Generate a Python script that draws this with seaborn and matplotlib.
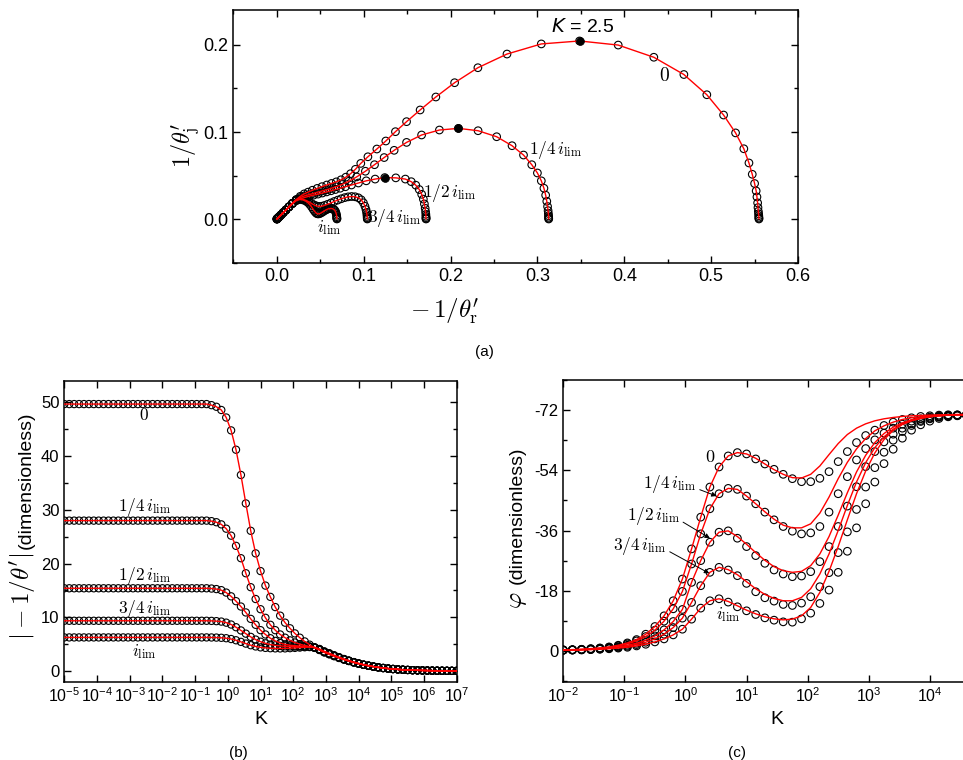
import numpy as np
import matplotlib
matplotlib.use("Agg")
import matplotlib.pyplot as plt
import seaborn as sns
from matplotlib.ticker import MultipleLocator, NullLocator, FormatStrFormatter

# ---------------- panel (a) data (ordered low K -> high K) ----------------
a0_x = [0.5550,0.5550,0.5549,0.5548,0.5546,0.5543,0.5539,0.5535,0.5527,0.5518,
        0.5500,0.5473,0.5435,0.5376,0.5281,0.5143,0.4950,0.4686,0.4340,0.3930,
        0.3485,0.3045,0.2650,0.2315,0.2047,0.1831,0.1650,0.1494,0.1366,0.1255,
        0.1152,0.1049,0.0967,0.0905,0.0850,0.0795,0.0740,0.0685,0.0630,0.0575,
        0.0520,0.0465,0.0410,0.0360,0.0315,0.0270,0.0225,0.0180,0.0140,0.0105,
        0.0075,0.0050,0.0030,0.0016,0.0007,0.0002]
a0_y = [0.0002,0.0010,0.0022,0.0040,0.0062,0.0090,0.0133,0.0187,0.0255,0.0324,
        0.0409,0.0515,0.0645,0.0808,0.0990,0.1195,0.1428,0.1660,0.1858,0.1998,
        0.2045,0.2011,0.1895,0.1738,0.1566,0.1402,0.1253,0.1119,0.1004,0.0897,
        0.0805,0.0716,0.0640,0.0572,0.0522,0.0482,0.0452,0.0428,0.0410,0.0392,
        0.0373,0.0353,0.0332,0.0310,0.0290,0.0262,0.0225,0.0182,0.0142,0.0106,
        0.0076,0.0050,0.0030,0.0016,0.0007,0.0002]

a1_x = [0.3130,0.3130,0.3129,0.3128,0.3126,0.3123,0.3117,0.3108,0.3095,0.3075,
        0.3045,0.3000,0.2935,0.2840,0.2708,0.2531,0.2317,0.2091,0.1872,0.1667,
        0.1494,0.1351,0.1236,0.1125,0.1020,0.0920,0.0830,0.0750,0.0680,0.0620,
        0.0565,0.0515,0.0465,0.0415,0.0365,0.0315,0.0270,0.0225,0.0180,0.0140,
        0.0105,0.0075,0.0050,0.0030,0.0016,0.0007,0.0002]
a1_y = [0.0002,0.0010,0.0022,0.0040,0.0065,0.0098,0.0145,0.0205,0.0275,0.0355,
        0.0440,0.0530,0.0625,0.0736,0.0843,0.0946,0.1015,0.1042,0.1023,0.0966,
        0.0881,0.0790,0.0707,0.0625,0.0550,0.0485,0.0435,0.0398,0.0372,0.0352,
        0.0336,0.0322,0.0308,0.0294,0.0280,0.0266,0.0248,0.0222,0.0182,0.0142,
        0.0106,0.0076,0.0050,0.0030,0.0016,0.0007,0.0002]

a2_x = [0.1718,0.1718,0.1718,0.1717,0.1716,0.1713,0.1708,0.1699,0.1687,0.1668,
        0.1640,0.1600,0.1548,0.1480,0.1370,0.1243,0.1132,0.1030,0.0940,0.0860,
        0.0790,0.0730,0.0675,0.0625,0.0575,0.0525,0.0475,0.0425,0.0375,0.0325,
        0.0275,0.0225,0.0180,0.0140,0.0105,0.0075,0.0050,0.0030,0.0016,0.0007,
        0.0002]
a2_y = [0.0002,0.0008,0.0018,0.0033,0.0055,0.0085,0.0125,0.0175,0.0230,0.0285,
        0.0340,0.0390,0.0430,0.0460,0.0474,0.0477,0.0460,0.0440,0.0415,0.0392,
        0.0372,0.0355,0.0340,0.0326,0.0313,0.0300,0.0288,0.0276,0.0264,0.0250,
        0.0234,0.0212,0.0178,0.0140,0.0105,0.0076,0.0050,0.0030,0.0016,0.0007,
        0.0002]

a3_x = [0.1042,0.1042,0.1041,0.1040,0.1038,0.1034,0.1027,0.1015,0.0997,0.0972,
        0.0940,0.0902,0.0862,0.0822,0.0782,0.0742,0.0702,0.0662,0.0622,0.0584,
        0.0548,0.0515,0.0485,0.0456,0.0428,0.0400,0.0370,0.0338,0.0303,0.0265,
        0.0225,0.0180,0.0140,0.0105,0.0075,0.0050,0.0030,0.0016,0.0007,0.0002]
a3_y = [0.0002,0.0008,0.0018,0.0032,0.0052,0.0078,0.0110,0.0148,0.0188,0.0222,
        0.0245,0.0257,0.0260,0.0256,0.0247,0.0234,0.0219,0.0203,0.0186,0.0170,
        0.0157,0.0148,0.0146,0.0152,0.0164,0.0180,0.0198,0.0215,0.0228,0.0232,
        0.0222,0.0182,0.0142,0.0106,0.0076,0.0050,0.0030,0.0016,0.0007,0.0002]

a4_x = [0.0692,0.0692,0.0691,0.0690,0.0688,0.0684,0.0678,0.0669,0.0657,0.0642,
        0.0625,0.0607,0.0589,0.0571,0.0553,0.0536,0.0519,0.0503,0.0488,0.0474,
        0.0461,0.0448,0.0434,0.0418,0.0400,0.0378,0.0352,0.0322,0.0290,0.0256,
        0.0220,0.0180,0.0140,0.0105,0.0075,0.0050,0.0030,0.0016,0.0007,0.0002]
a4_y = [0.0002,0.0007,0.0016,0.0029,0.0045,0.0064,0.0083,0.0100,0.0112,0.0120,
        0.0123,0.0122,0.0117,0.0109,0.0099,0.0088,0.0077,0.0068,0.0062,0.0060,
        0.0064,0.0075,0.0092,0.0115,0.0142,0.0170,0.0195,0.0213,0.0223,0.0225,
        0.0215,0.0180,0.0141,0.0105,0.0075,0.0050,0.0030,0.0016,0.0007,0.0002]

# K = 2.5 points (filled)
k25_x = [0.3485, 0.2091, 0.1243]
k25_y = [0.2045, 0.1042, 0.0477]

# ---------------- panel (b) data ----------------
logK = [-5.0,-4.85,-4.7,-4.55,-4.4,-4.25,-4.1,-3.95,-3.8,-3.65,
        -3.5,-3.35,-3.2,-3.05,-2.9,-2.75,-2.6,-2.45,-2.3,-2.15,
        -2.0,-1.85,-1.7,-1.55,-1.4,-1.25,-1.1,-0.95,-0.8,-0.65,
        -0.5,-0.35,-0.2,-0.05,0.1,0.25,0.4,0.55,0.7,0.85,
        1.0,1.15,1.3,1.45,1.6,1.75,1.9,2.05,2.2,2.35,
        2.5,2.65,2.8,2.95,3.1,3.25,3.4,3.55,3.7,3.85,
        4.0,4.15,4.3,4.45,4.6,4.75,4.9,5.05,5.2,5.35,
        5.5,5.65,5.8,5.95,6.1,6.25,6.4,6.55,6.7,6.85,
        7.0]

mag_0 = [49.7,49.7,49.7,49.7,49.7,49.7,49.7,49.7,49.7,49.7,
         49.7,49.7,49.7,49.7,49.7,49.7,49.7,49.7,49.7,49.7,
         49.7,49.7,49.7,49.7,49.7,49.7,49.7,49.7,49.7,49.7,
         49.5,49.2,48.6,47.2,44.8,41.2,36.5,31.2,26.1,21.9,
         18.6,15.9,13.8,11.9,10.3,9.0,7.95,7.0,6.2,5.5,
         4.9,4.3,3.9,3.45,3.1,2.75,2.42,2.12,1.85,1.58,
         1.35,1.14,0.96,0.8,0.66,0.54,0.44,0.36,0.29,0.23,
         0.19,0.15,0.12,0.1,0.08,0.06,0.05,0.04,0.03,0.025,
         0.02]
mag_14 = [28.0,28.0,28.0,28.0,28.0,28.0,28.0,28.0,28.0,28.0,
          28.0,28.0,28.0,28.0,28.0,28.0,28.0,28.0,28.0,28.0,
          28.0,28.0,28.0,28.0,28.0,28.0,28.0,28.0,28.0,28.0,
          27.9,27.7,27.3,26.5,25.2,23.3,21.0,18.2,15.6,13.4,
          11.5,9.9,8.6,7.6,6.8,6.2,5.7,5.3,5.0,4.75,
          4.55,4.35,3.95,3.5,3.15,2.8,2.46,2.15,1.87,1.6,
          1.37,1.15,0.97,0.81,0.67,0.55,0.45,0.36,0.29,0.23,
          0.19,0.15,0.12,0.1,0.08,0.06,0.05,0.04,0.03,0.025,
          0.02]
mag_12 = [15.4,15.4,15.4,15.4,15.4,15.4,15.4,15.4,15.4,15.4,
          15.4,15.4,15.4,15.4,15.4,15.4,15.4,15.4,15.4,15.4,
          15.4,15.4,15.4,15.4,15.4,15.4,15.4,15.4,15.4,15.4,
          15.35,15.25,15.05,14.6,13.9,13.0,12.0,10.9,9.7,8.6,
          7.6,6.8,6.1,5.6,5.2,4.95,4.8,4.7,4.65,4.6,
          4.5,4.37,4.0,3.55,3.2,2.84,2.5,2.18,1.89,1.62,
          1.38,1.16,0.98,0.82,0.68,0.55,0.45,0.37,0.29,0.23,
          0.19,0.15,0.12,0.1,0.08,0.06,0.05,0.04,0.03,0.025,
          0.02]
mag_34 = [9.35,9.35,9.35,9.35,9.35,9.35,9.35,9.35,9.35,9.35,
          9.35,9.35,9.35,9.35,9.35,9.35,9.35,9.35,9.35,9.35,
          9.35,9.35,9.35,9.35,9.35,9.35,9.35,9.35,9.35,9.35,
          9.33,9.28,9.2,9.0,8.65,8.15,7.55,6.95,6.35,5.85,
          5.45,5.15,4.92,4.77,4.67,4.6,4.57,4.55,4.55,4.53,
          4.5,4.4,4.05,3.6,3.25,2.88,2.53,2.2,1.91,1.64,
          1.39,1.17,0.99,0.83,0.68,0.56,0.46,0.37,0.3,0.24,
          0.19,0.15,0.12,0.1,0.08,0.06,0.05,0.04,0.03,0.025,
          0.02]
mag_lim = [6.25,6.25,6.25,6.25,6.25,6.25,6.25,6.25,6.25,6.25,
           6.25,6.25,6.25,6.25,6.25,6.25,6.25,6.25,6.25,6.25,
           6.25,6.25,6.25,6.25,6.25,6.25,6.25,6.25,6.25,6.25,
           6.24,6.22,6.18,6.1,5.95,5.72,5.42,5.1,4.8,4.57,
           4.4,4.3,4.24,4.21,4.2,4.21,4.25,4.3,4.36,4.42,
           4.45,4.4,4.1,3.65,3.3,2.92,2.56,2.23,1.93,1.66,
           1.4,1.18,1.0,0.84,0.69,0.56,0.46,0.37,0.3,0.24,
           0.19,0.15,0.12,0.1,0.08,0.06,0.05,0.04,0.03,0.025,
           0.02]

# ---------------- panel (c) data (logK from -2.0 to 4.6) ----------------
logK_c = logK[20:65]
phi_0 = [-0.3,-0.4,-0.5,-0.7,-0.9,-1.2,-1.7,-2.4,-3.4,-5.0,-7.3,-10.5,-15.0,-21.5,
         -30.5,-40.0,-49.0,-55.0,-58.3,-59.3,-58.9,-57.4,-55.9,-54.3,-52.8,-51.5,
         -50.6,-50.6,-51.6,-53.6,-56.6,-59.6,-62.3,-64.4,-66.0,-67.4,-68.4,-69.2,
         -69.7,-70.1,-70.3,-70.5,-70.6,-70.6,-70.7]
phi_14 = [-0.3,-0.35,-0.45,-0.6,-0.8,-1.1,-1.5,-2.1,-3.0,-4.3,-6.2,-8.9,-12.6,-17.8,
          -26.0,-35.0,-42.5,-47.0,-48.6,-48.3,-46.3,-44.0,-41.5,-39.2,-37.2,-35.8,
          -35.0,-35.3,-37.2,-41.5,-47.0,-52.1,-57.1,-60.5,-63.1,-65.1,-66.6,-67.8,
          -68.7,-69.4,-69.9,-70.2,-70.4,-70.5,-70.6]
phi_12 = [-0.25,-0.3,-0.4,-0.5,-0.7,-0.9,-1.2,-1.7,-2.3,-3.2,-4.5,-6.3,-8.8,-12.4,
          -20.5,-27.0,-32.5,-35.5,-35.9,-33.7,-31.2,-28.5,-26.2,-24.2,-23.0,-22.2,
          -22.4,-23.7,-26.7,-31.2,-37.2,-43.3,-49.1,-55.1,-59.6,-62.5,-64.8,-66.6,
          -67.9,-68.9,-69.6,-70.0,-70.3,-70.5,-70.6]
phi_34 = [-0.25,-0.3,-0.35,-0.45,-0.6,-0.8,-1.05,-1.4,-1.9,-2.6,-3.6,-5.0,-7.0,-9.8,
          -14.5,-19.5,-23.5,-25.0,-24.2,-22.5,-20.2,-17.7,-15.9,-14.9,-13.9,-13.6,
          -14.3,-16.2,-19.2,-23.4,-29.4,-35.6,-42.3,-49.0,-54.8,-59.4,-63.0,-65.6,
          -67.4,-68.6,-69.4,-69.9,-70.2,-70.4,-70.5]
phi_lim = [-0.2,-0.25,-0.3,-0.4,-0.5,-0.65,-0.85,-1.1,-1.5,-2.0,-2.7,-3.6,-4.8,-6.5,
           -9.5,-12.8,-15.0,-15.6,-14.6,-13.2,-12.0,-10.9,-9.9,-9.2,-8.7,-8.6,
           -9.6,-11.3,-14.2,-18.2,-23.5,-29.8,-36.8,-44.0,-50.5,-56.0,-60.3,-63.6,
           -66.0,-67.6,-68.7,-69.5,-70.0,-70.3,-70.5]

# model lines for (c)
fit_0 = phi_0[:14] + [-30.5,-40.0,-49.0,-55.0,-58.3,-59.3,-58.9,-57.6,-55.9,-54.2,-52.8,
                      -51.8,-51.7,-52.8,-55.3,-58.7,-62.0,-64.7,-66.6,-67.9,-68.8,-69.4,
                      -69.8,-70.1,-70.3,-70.4,-70.5,-70.6,-70.6,-70.7,-70.7]
fit_14 = phi_14[:14] + [-26.0,-35.0,-42.5,-47.0,-48.6,-48.3,-46.3,-44.0,-41.6,-39.4,-37.6,
                        -36.8,-36.8,-38.0,-41.2,-46.0,-51.5,-56.4,-60.4,-63.5,-65.8,-67.3,
                        -68.4,-69.2,-69.7,-70.0,-70.3,-70.4,-70.5,-70.6,-70.6]
fit_12 = phi_12[:14] + [-20.5,-27.0,-32.5,-35.5,-35.9,-34.2,-31.9,-29.4,-27.1,-25.2,-24.0,
                        -23.5,-23.8,-25.5,-29.0,-34.2,-40.6,-47.3,-53.5,-58.5,-62.3,-65.0,
                        -66.9,-68.2,-69.1,-69.7,-70.1,-70.3,-70.5,-70.6,-70.6]
fit_34 = phi_34[:14] + [-14.5,-19.5,-23.5,-25.0,-24.3,-22.8,-20.7,-18.6,-16.9,-15.7,-15.0,
                        -15.0,-16.0,-18.6,-23.0,-29.0,-36.0,-43.5,-50.5,-56.3,-60.8,-64.0,
                        -66.3,-67.8,-68.9,-69.6,-70.0,-70.3,-70.5,-70.6,-70.6]
fit_lim = phi_lim[:14] + [-9.5,-12.8,-15.0,-15.6,-14.8,-13.5,-12.2,-11.1,-10.2,-9.6,-9.3,
                          -9.5,-10.5,-13.0,-17.5,-23.8,-31.2,-39.2,-47.0,-53.8,-59.2,-63.2,
                          -65.9,-67.7,-68.8,-69.5,-70.0,-70.3,-70.5,-70.6,-70.6]

# tick labels
b_tick_exps = [-5,-4,-3,-2,-1,0,1,2,3,4,5,6,7]
c_tick_exps = [-2,-1,0,1,2,3,4]
c_yticks = [-72,-54,-36,-18,0]
c_ytick_labels = ['-72','-54','-36','-18','0']
curve_labels = [r'$0$', r'$1/4\,i_{\rm lim}$', r'$1/2\,i_{\rm lim}$',
                r'$3/4\,i_{\rm lim}$', r'$i_{\rm lim}$']

# ---------------- style ----------------
sns.set_theme(style='ticks', rc={'axes.edgecolor': 'black', 'text.color': 'black',
                                 'xtick.color': 'black', 'ytick.color': 'black',
                                 'axes.labelcolor': 'black'})
plt.rcParams['font.family'] = ['Liberation Sans', 'DejaVu Sans']
plt.rcParams['mathtext.fontset'] = 'cm'
plt.rcParams['axes.linewidth'] = 1.1

fig = plt.figure(figsize=(9.63, 7.6), dpi=100)
axA = fig.add_axes([0.2423, 0.6543, 0.5864, 0.3325])
axB = fig.add_axes([0.0668, 0.1030, 0.4075, 0.3957])
axC = fig.add_axes([0.5849, 0.1030, 0.4441, 0.3970])

MEW = 0.8
LW = 1.0

def markers(ax, x, y, s):
    sns.scatterplot(x=x, y=y, ax=ax, s=s, facecolor='none', edgecolor='black',
                    linewidth=MEW, zorder=2, legend=False)

def model(ax, x, y):
    sns.lineplot(x=x, y=y, ax=ax, sort=False, estimator=None, color='red',
                 lw=LW, zorder=3, legend=False)

# ---------------- panel (a) ----------------
for xs, ys in [(a0_x, a0_y), (a1_x, a1_y), (a2_x, a2_y), (a3_x, a3_y), (a4_x, a4_y)]:
    markers(axA, xs, ys, 30)
    model(axA, xs, ys)
sns.scatterplot(x=k25_x, y=k25_y, ax=axA, s=32, color='black', edgecolor='black',
                linewidth=0.5, zorder=4, legend=False)
axA.set_xlim(-0.05, 0.6)
axA.set_ylim(-0.05, 0.24)
axA.xaxis.set_major_locator(MultipleLocator(0.1))
axA.xaxis.set_minor_locator(MultipleLocator(0.05))
axA.yaxis.set_major_locator(MultipleLocator(0.1))
axA.yaxis.set_minor_locator(MultipleLocator(0.05))
axA.xaxis.set_major_formatter(FormatStrFormatter('%.1f'))
axA.yaxis.set_major_formatter(FormatStrFormatter('%.1f'))
axA.tick_params(axis='both', labelsize=13)
axA.text(0.4465, 0.1644, curve_labels[0], fontsize=14, ha='center', va='center')
axA.text(0.321, 0.0793, curve_labels[1], fontsize=12.5, ha='center', va='center')
axA.text(0.1984, 0.0303, curve_labels[2], fontsize=12.5, ha='center', va='center')
axA.text(0.1358, 0.0019, curve_labels[3], fontsize=12.5, ha='center', va='center')
axA.text(0.0609, -0.0100, curve_labels[4], fontsize=12.5, ha='center', va='center')
axA.text(0.3519, 0.2211, r'$K$ = 2.5', fontsize=14, ha='center', va='center',
         math_fontfamily='dejavusans')
axA.set_xlabel('')
axA.set_ylabel('')
fig.text(445/963, 1-312/760, r"$-\,1/\theta^{\prime}_{\mathrm{r}}$", fontsize=18,
         ha='center', va='center')
fig.text(186/963, 1-145/760, r"$1/\theta^{\prime}_{\mathrm{j}}$", fontsize=17.5,
         ha='center', va='center', rotation=90)
fig.text(484/963, 1-352/760, '(a)', fontsize=11, ha='center', va='center')

# ---------------- panel (b) ----------------
axB.set_xscale('log')
Kb = 10.0 ** np.array(logK)
for mags in [mag_0, mag_14, mag_12, mag_34, mag_lim]:
    markers(axB, Kb, mags, 27)
    model(axB, Kb, mags)
axB.set_xlim(1e-5, 1e7)
axB.set_ylim(-2, 54)
axB.set_xticks([10.0 ** e for e in b_tick_exps])
axB.set_xticklabels([r'$\mathregular{10^{%d}}$' % e for e in b_tick_exps])
axB.xaxis.set_minor_locator(NullLocator())
axB.yaxis.set_major_locator(MultipleLocator(10))
axB.yaxis.set_minor_locator(MultipleLocator(5))
axB.tick_params(axis='x', labelsize=11.5)
axB.tick_params(axis='y', labelsize=12)
axB.set_xlabel('K', fontsize=14, labelpad=4)
axB.set_ylabel('')
for lab, yv in zip(curve_labels, [47.6, 30.6, 17.7, 11.5, 3.6]):
    axB.text(10 ** -2.56, yv, lab, fontsize=12.5, ha='center', va='center')
fig.text(23/963, 1-596/760, r"$|-1/\theta^{\prime}|$", fontsize=18, ha='center',
         va='center', rotation=90)
fig.text(26.5/963, 1-480/760, '(dimensionless)', fontsize=14, ha='center',
         va='center', rotation=90)
fig.text(238/963, 1-753/760, '(b)', fontsize=11, ha='center', va='center')

# ---------------- panel (c) ----------------
axC.set_xscale('log')
Kc = 10.0 ** np.array(logK_c)
for ph, ft in [(phi_0, fit_0), (phi_14, fit_14), (phi_12, fit_12),
               (phi_34, fit_34), (phi_lim, fit_lim)]:
    markers(axC, Kc, ph, 30)
    model(axC, Kc, ft)
axC.set_xlim(1e-2, 1e5)
axC.set_ylim(9.2, -81)
axC.set_xticks([10.0 ** e for e in c_tick_exps])
axC.set_xticklabels([r'$\mathregular{10^{%d}}$' % e for e in c_tick_exps])
axC.xaxis.set_minor_locator(NullLocator())
axC.set_yticks(c_yticks)
axC.set_yticklabels(c_ytick_labels)
axC.yaxis.set_minor_locator(MultipleLocator(9))
axC.tick_params(axis='x', labelsize=11.5)
axC.tick_params(axis='y', labelsize=12)
axC.set_xlabel('K', fontsize=14, labelpad=4)
axC.set_ylabel('')
axC.text(10 ** 0.40, -57.9, curve_labels[0], fontsize=13, ha='center', va='center')
arrow = dict(arrowstyle='-|>', color='black', lw=0.7, mutation_scale=7,
             shrinkA=0, shrinkB=0, relpos=(1.0, 0.3))
axC.annotate(curve_labels[1], xy=(10 ** 0.51, -46.3), xytext=(10 ** -0.254, -49.9),
             fontsize=12.5, ha='center', va='center', arrowprops=arrow)
axC.annotate(curve_labels[2], xy=(10 ** 0.40, -33.7), xytext=(10 ** -0.527, -40.4),
             fontsize=12.5, ha='center', va='center', arrowprops=arrow)
axC.annotate(curve_labels[3], xy=(10 ** 0.39, -23.2), xytext=(10 ** -0.745, -31.5),
             fontsize=12.5, ha='center', va='center', arrowprops=arrow)
axC.text(10 ** 0.70, -10.8, curve_labels[4], fontsize=12.5, ha='center', va='center')
fig.text(516.7/963, 1-600/760, r'$\varphi$', fontsize=18, ha='center', va='center',
         rotation=90)
fig.text(517.5/963, 1-515.7/760, '(dimensionless)', fontsize=14, ha='center',
         va='center', rotation=90)
fig.text(736.7/963, 1-753/760, '(c)', fontsize=11, ha='center', va='center')

for ax in (axA, axB, axC):
    ax.tick_params(which='both', direction='in', top=True, right=True,
                   width=1.0, color='black')
    ax.tick_params(which='major', length=5)
    ax.tick_params(which='minor', length=3)
    for sp in ax.spines.values():
        sp.set_linewidth(1.1)
        sp.set_color('black')

fig.savefig('out.png', dpi=100)
